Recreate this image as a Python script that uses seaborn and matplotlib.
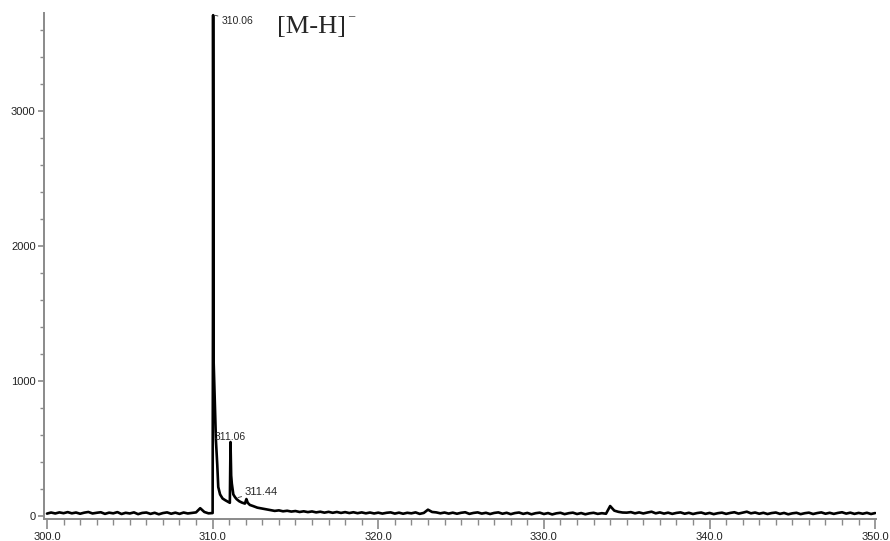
import numpy as np
import pandas as pd
import seaborn as sns
from matplotlib import pyplot as plt
from matplotlib.ticker import MultipleLocator, FormatStrFormatter

# baseline left of the peak, 300.0 - 309.75 every 0.25
left_vals = [18, 26, 19, 27, 21, 29, 20, 26, 17, 25,
             30, 19, 24, 28, 16, 25, 20, 29, 15, 24,
             19, 27, 14, 23, 26, 16, 24, 13, 22, 27,
             17, 25, 16, 26, 19, 23, 27, 58, 30, 20]

# [M-H]- cluster
peak_mz = [310.00, 310.02, 310.03, 310.06, 310.14, 310.20, 310.28, 310.34,
           310.45, 310.60, 310.75, 310.93, 311.04, 311.08, 311.12, 311.16,
           311.25, 311.35, 311.45, 311.60, 311.76, 311.95, 312.04, 312.12,
           312.25, 312.44, 312.70, 313.00, 313.27]
peak_int = [22, 1500, 3710, 1150, 800, 560, 380, 215,
            160, 130, 118, 105, 98, 548, 300, 240,
            160, 140, 125, 110, 100, 92, 126, 98,
            82, 74, 62, 55, 48]

# baseline right of the peak, 313.5 - 350.0 every 0.25
right_vals = [44, 38, 42, 35, 39, 33, 37, 30, 35, 29,
              34, 27, 32, 25, 31, 24, 30, 23, 29, 22,
              28, 21, 27, 20, 26, 19, 25, 18, 24, 27,
              18, 25, 17, 24, 20, 27, 16, 23, 47, 30,
              27, 20, 26, 18, 25, 17, 24, 28, 16, 23,
              27, 18, 24, 15, 23, 27, 17, 24, 14, 22,
              26, 16, 23, 13, 21, 25, 15, 22, 12, 20,
              24, 14, 21, 25, 15, 22, 13, 20, 24, 16,
              21, 17, 74, 40, 31, 26, 25, 29, 20, 27,
              19, 26, 32, 20, 27, 18, 25, 16, 23, 27,
              17, 24, 15, 22, 26, 16, 23, 14, 21, 25,
              16, 23, 28, 18, 25, 32, 20, 26, 17, 24,
              15, 22, 26, 16, 23, 13, 20, 24, 14, 21,
              25, 15, 22, 27, 17, 24, 16, 23, 28, 18,
              25, 16, 23, 17, 24, 15, 22]

labels = ["310.06", "311.06", "311.44"]

mz = np.concatenate([np.linspace(300.0, 309.75, len(left_vals)), peak_mz,
                     np.linspace(313.5, 350.0, len(right_vals))])
inten = np.concatenate([left_vals, peak_int, right_vals])
dat = pd.DataFrame({"mz": mz, "intensity": inten})

sns.set_style("ticks")
plt.rcParams['font.family'] = ['Liberation Sans', 'DejaVu Sans']

fig = plt.figure(figsize=(8.9, 5.41), dpi=100)
ax = fig.add_axes([44 / 890, 22 / 541, 832 / 890, 506 / 541])

sns.lineplot(data=dat, x="mz", y="intensity", color="black", lw=1.9,
             sort=False, estimator=None, ax=ax)

ax.set_xlim(299.82, 350.05)
ax.set_ylim(-22, 3726)
ax.xaxis.set_major_locator(MultipleLocator(10))
ax.xaxis.set_minor_locator(MultipleLocator(1))
ax.yaxis.set_major_locator(MultipleLocator(1000))
ax.yaxis.set_minor_locator(MultipleLocator(200))
ax.xaxis.set_major_formatter(FormatStrFormatter('%.1f'))
ax.set_xlabel("")
ax.set_ylabel("")

sns.despine(ax=ax)
for s in ["left", "bottom"]:
    ax.spines[s].set_color("#8a8a8a")
    ax.spines[s].set_linewidth(1.4)
ax.tick_params(axis='x', which='major', length=7, width=1.2, color='#8a8a8a',
               labelsize=8, labelcolor='#222222', pad=2)
ax.tick_params(axis='x', which='minor', length=4, width=1.0, color='#8a8a8a')
ax.tick_params(axis='y', which='major', length=4, width=1.2, color='#8a8a8a',
               labelsize=8, labelcolor='#222222', pad=2)
ax.tick_params(axis='y', which='minor', length=3, width=1.0, color='#8a8a8a')

# peak labels
ax.annotate(labels[0], xy=(310.04, 3712), xytext=(310.52, 3670),
            fontsize=7.5, va='center', ha='left',
            arrowprops=dict(arrowstyle='-', lw=0.6, color='#333333',
                            shrinkA=0, shrinkB=1))
ax.text(311.06, 548, labels[1], fontsize=7.5, ha='center', va='bottom')
ax.annotate(labels[2], xy=(311.45, 135), xytext=(311.95, 178),
            fontsize=8, va='center', ha='left',
            arrowprops=dict(arrowstyle='-', lw=0.6, color='#333333',
                            shrinkA=0, shrinkB=1))

ion = ax.text(313.89, 3578, "[M-H]", fontsize=19, ha='left', va='baseline',
              family='Liberation Serif')
ax.annotate("\u2013", xy=(1, 1), xycoords=ion, xytext=(1.5, 4),
            textcoords='offset points', fontsize=9, ha='left', va='top',
            family='Liberation Serif')

fig.savefig("out.png", dpi=100)
